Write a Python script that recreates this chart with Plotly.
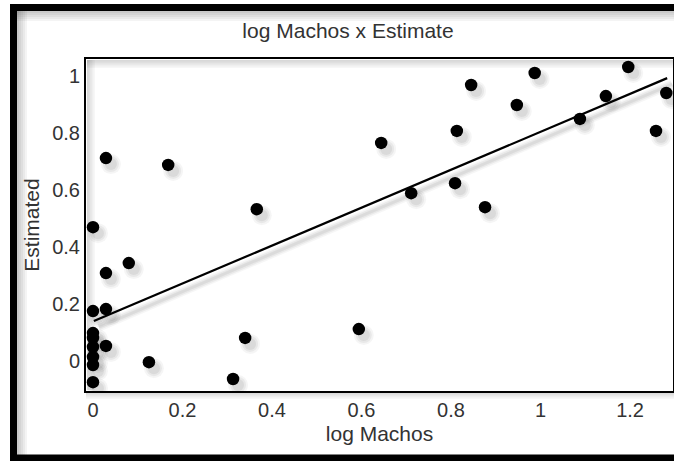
import plotly.graph_objects as go

# ---- data ----
log_machos = [0.0, 0.0, 0.0, 0.0, 0.0, 0.0, 0.0, 0.0,
              0.029, 0.029, 0.029, 0.029, 0.080, 0.125, 0.168,
              0.313, 0.340, 0.366, 0.594, 0.644, 0.711, 0.809, 0.813,
              0.845, 0.876, 0.947, 0.987, 1.088, 1.146, 1.196, 1.258, 1.281]
estimated = [0.469, 0.175, 0.098, 0.081, 0.049, 0.014, -0.014, -0.074,
             0.053, 0.182, 0.308, 0.711, 0.343, -0.004, 0.687,
             -0.063, 0.081, 0.532, 0.112, 0.764, 0.588, 0.623, 0.806,
             0.967, 0.539, 0.897, 1.009, 0.848, 0.928, 1.030, 0.806, 0.939]
trend_x = [0.002, 1.283]
trend_y = [0.140, 0.991]
x_ticks = [0, 0.2, 0.4, 0.6, 0.8, 1, 1.2]
x_tick_labels = ["0", "0.2", "0.4", "0.6", "0.8", "1", "1.2"]
y_ticks = [0, 0.2, 0.4, 0.6, 0.8, 1]
y_tick_labels = ["0", "0.2", "0.4", "0.6", "0.8", "1"]

# ---- layout geometry (pixels) ----
WIDTH, HEIGHT = 674, 461
L, R, T, B = 86, 673, 59, 391
PW, PH = R - L, B - T
X_RANGE = [-0.0156, 1.296]
Y_RANGE = [-0.105, 1.058]
KX = PW / (X_RANGE[1] - X_RANGE[0])
KY = PH / (Y_RANGE[1] - Y_RANGE[0])
SH_DX, SH_DY = 5, 6  # shadow offset in px


def px(x):
    return (x - L) / PW


def py(y):
    return (B - y) / PH


FONT = "Liberation Sans, Arial, sans-serif"
TXT = "#333333"

fig = go.Figure()

# invisible trace so the main (visible) axes are drawn
fig.add_trace(go.Scatter(x=log_machos, y=estimated, mode="markers",
                         marker=dict(opacity=0), hoverinfo="skip", showlegend=False))
# soft shadows (on shifted hidden axes)
for w, a in [(9, 0.035), (6, 0.05), (3, 0.06)]:
    fig.add_trace(go.Scatter(x=trend_x, y=trend_y, mode="lines",
                             line=dict(color=f"rgba(0,0,0,{a})", width=w),
                             xaxis="x2", yaxis="y2", hoverinfo="skip", showlegend=False))
for s, a in [(20, 0.04), (16, 0.05), (12, 0.06)]:
    fig.add_trace(go.Scatter(x=log_machos, y=estimated, mode="markers",
                             marker=dict(color=f"rgba(0,0,0,{a})", size=s, line=dict(width=0)),
                             xaxis="x2", yaxis="y2", hoverinfo="skip", showlegend=False))
# real marks
fig.add_trace(go.Scatter(x=trend_x, y=trend_y, mode="lines",
                         line=dict(color="black", width=2.2),
                         xaxis="x3", yaxis="y3", showlegend=False))
fig.add_trace(go.Scatter(x=log_machos, y=estimated, mode="markers",
                         marker=dict(color="black", size=12.5, line=dict(width=0)),
                         xaxis="x3", yaxis="y3", showlegend=False))

shapes = []


def grad(x0, y0, x1, y1, side, n=5, a=0.045):
    # stacked translucent strips to fake a soft shadow; side = edge that is darkest
    for k in range(1, n + 1):
        f = k / n
        if side == "left":
            r = (x0, y0, x0 + (x1 - x0) * f, y1)
        else:
            r = (x0, y0, x1, y0 + (y1 - y0) * f)
        shapes.append(dict(type="rect", xref="paper", yref="paper",
                           x0=px(r[0]), x1=px(r[2]), y0=py(r[1]), y1=py(r[3]),
                           line=dict(width=0), fillcolor=f"rgba(0,0,0,{a})", layer="below"))


# inner shadow of outer frame
grad(17, 11, 27, 455, "left")
grad(17, 11, 690, 21, "top")
# inner shadow of plot box
grad(87, 60, 95, 390, "left", a=0.03)
grad(87, 60, 673, 68, "top", a=0.03)
# drop shadow under plot box
grad(86, 392, 690, 399, "top", a=0.03)

# outer black frame
shapes.append(dict(type="rect", xref="paper", yref="paper",
                   x0=px(13.5), x1=px(700), y0=py(7.5), y1=py(458),
                   line=dict(color="black", width=7), fillcolor="rgba(0,0,0,0)", layer="above"))

axis_common = dict(showgrid=False, zeroline=False, ticks="",
                   showline=True, linecolor="black", linewidth=2, mirror=True,
                   tickfont=dict(family=FONT, size=20, color=TXT))

fig.update_layout(
    width=WIDTH, height=HEIGHT,
    margin=dict(l=L, r=WIDTH - R, t=T, b=HEIGHT - B, autoexpand=False),
    paper_bgcolor="white", plot_bgcolor="white",
    title=dict(text="log Machos x Estimate", xref="container", yref="container",
               x=348 / WIDTH, xanchor="center", y=1 - 31 / HEIGHT, yanchor="middle",
               font=dict(family=FONT, size=21, color=TXT)),
    xaxis=dict(range=X_RANGE, tickvals=x_ticks, ticktext=x_tick_labels,
               title=dict(text="log Machos", standoff=6,
                          font=dict(family=FONT, size=21, color=TXT)),
               ticklabelstandoff=0, **axis_common),
    yaxis=dict(range=Y_RANGE, tickvals=y_ticks, ticktext=y_tick_labels,
               title=dict(text="Estimated", standoff=7,
                          font=dict(family=FONT, size=21, color=TXT)),
               ticklabelstandoff=0, **axis_common),
    xaxis2=dict(overlaying="x", visible=False,
                range=[X_RANGE[0] - SH_DX / KX, X_RANGE[1] - SH_DX / KX]),
    yaxis2=dict(overlaying="y", visible=False,
                range=[Y_RANGE[0] + SH_DY / KY, Y_RANGE[1] + SH_DY / KY]),
    xaxis3=dict(overlaying="x", visible=False, range=X_RANGE),
    yaxis3=dict(overlaying="y", visible=False, range=Y_RANGE),
    shapes=shapes,
    showlegend=False,
)

fig.write_html("out.html", config={"displayModeBar": False},
               post_script="document.body.style.margin='0';document.body.style.overflow='hidden';")
